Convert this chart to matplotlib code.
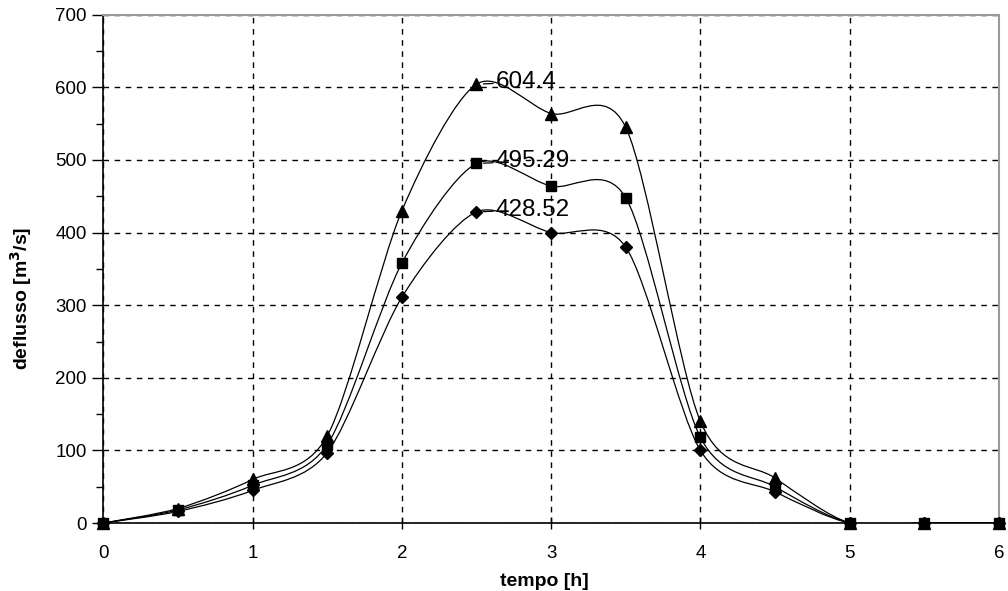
"""Idrogrammi di piena: deflusso vs tempo, tre curve smussate con etichette di picco."""
import numpy as np
import matplotlib.pyplot as plt
from matplotlib.path import Path
from matplotlib.patches import PathPatch

plt.rcParams['font.family'] = ['Liberation Sans', 'DejaVu Sans']

tempo = [0, 0.5, 1, 1.5, 2, 2.5, 3, 3.5, 4, 4.5, 5, 5.5, 6]
q_tri = [0, 20, 60, 120, 430, 604.4, 564, 545, 140, 62, 0, 0, 0]
q_sq = [0, 18, 52, 108, 358, 495.29, 464, 448, 118, 50, 0, 0, 0]
q_dia = [0, 16, 45, 97, 311, 428.52, 400, 380, 100, 43, 0, 0, 0]
peak_labels = ["604.4", "495.29", "428.52"]


def smooth_path(x, y, k=7.0):
    # bezier a tratti in stile "linea smussata" di Excel
    p = np.column_stack([x, y]).astype(float)
    pp = np.vstack([p[0], p, p[-1]])
    verts = [p[0]]
    codes = [Path.MOVETO]
    for i in range(len(p) - 1):
        c1 = pp[i + 1] + (pp[i + 2] - pp[i]) / k
        c2 = pp[i + 2] - (pp[i + 3] - pp[i + 1]) / k
        verts += [c1, c2, pp[i + 2]]
        codes += [Path.CURVE4] * 3
    return Path(verts, codes)


fig = plt.figure(figsize=(10.08, 5.91), dpi=100)
ax = fig.add_axes([0.1025, 0.115, 0.8885, 0.86])

series = [(q_dia, "D", 6.5), (q_tri, "^", 8), (q_sq, "s", 6.5)]
for y, m, ms in series:
    ax.add_patch(PathPatch(smooth_path(tempo, y), fc="none", ec="black",
                           lw=0.9, zorder=3))
    ax.plot(tempo, y, ls="none", marker=m, ms=ms, color="black",
            zorder=4, clip_on=False)

for y, lab in zip([q_tri, q_sq, q_dia], peak_labels):
    v = max(y)
    ax.annotate(lab, xy=(2.5, v), xytext=(2.63, v + 3), va="center",
                ha="left", fontsize=17.5, color="black", zorder=5,
                arrowprops=dict(arrowstyle="-", lw=0.9, color="black",
                                shrinkA=0, shrinkB=5))

ax.set_xlim(0, 6)
ax.set_ylim(0, 700)
ax.set_xticks(range(0, 7))
ax.set_yticks(range(0, 701, 100))
ax.set_yticks(range(0, 701, 50), minor=True)
ax.tick_params(axis="x", direction="inout", length=8, width=1,
               labelsize=13.5, pad=12)
ax.tick_params(axis="y", which="major", direction="out", length=8, width=1,
               labelsize=13.5, pad=4)
ax.tick_params(axis="y", which="minor", direction="out", length=5, width=1)
ax.grid(True, which="major", ls=(0, (4, 4)), color="black", lw=1)

for s in ["left", "bottom"]:
    ax.spines[s].set_color("black")
    ax.spines[s].set_linewidth(1.2)
for s in ["top", "right"]:
    ax.spines[s].set_color("#9a9a9a")
    ax.spines[s].set_linewidth(1.5)

ax.set_xlabel("tempo [h]", fontsize=14, fontweight="bold")
ax.set_ylabel(r"deflusso [m$^\mathbf{3}$/s]", fontsize=14, fontweight="bold")
ax.xaxis.set_label_coords(0.492, -0.098)
ax.yaxis.set_label_coords(-0.077, 0.443)

fig.savefig("out.png", dpi=100)
